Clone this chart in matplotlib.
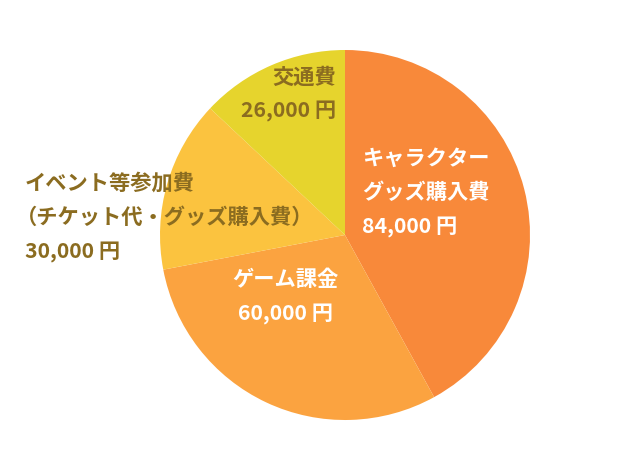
import matplotlib
matplotlib.use("Agg")
import matplotlib.pyplot as plt

plt.rcParams['font.family'] = ['Noto Sans CJK JP', 'DejaVu Sans']

# data
categories = ["キャラクター\nグッズ購入費", "ゲーム課金", "イベント等参加費\n（チケット代・グッズ購入費）", "交通費"]
amounts = [84000, 60000, 30000, 26000]
colors = ["#F8893A", "#FBA340", "#FBC33F", "#E6D42D"]

W, H = 640, 468
fig = plt.figure(figsize=(W / 100, H / 100), dpi=100)
ax = fig.add_axes([0, 0, 1, 1])

ax.pie(amounts, colors=colors, startangle=90, counterclock=False,
       center=(345, H - 235), radius=185, wedgeprops=dict(linewidth=0))
ax.set_xlim(0, W)
ax.set_ylim(0, H)
ax.set_aspect("equal")
ax.axis("off")

brown = "#8B6C20"
fs = 15.3

def yen(v):
    return f"{v:,} 円"

# label positions (pixel, top-origin), alignment, colour
label_pos = [(362, 158, "left", "white"),
             (285, 280, "center", "white"),
             (25, 183, "left", brown),
             (336, 77, "right", brown)]
line_gap = 34.5

for cat, val, (x, y, ha, c) in zip(categories, amounts, label_pos):
    lines = cat.split("\n") + [yen(val)]
    for i, s in enumerate(lines):
        dx = -9 if s.startswith("（") else 0
        ax.text(x + dx, H - (y + i * line_gap), s, ha=ha, va="center",
                fontsize=fs, fontweight="bold", color=c)

plt.savefig("out.png", dpi=100)
